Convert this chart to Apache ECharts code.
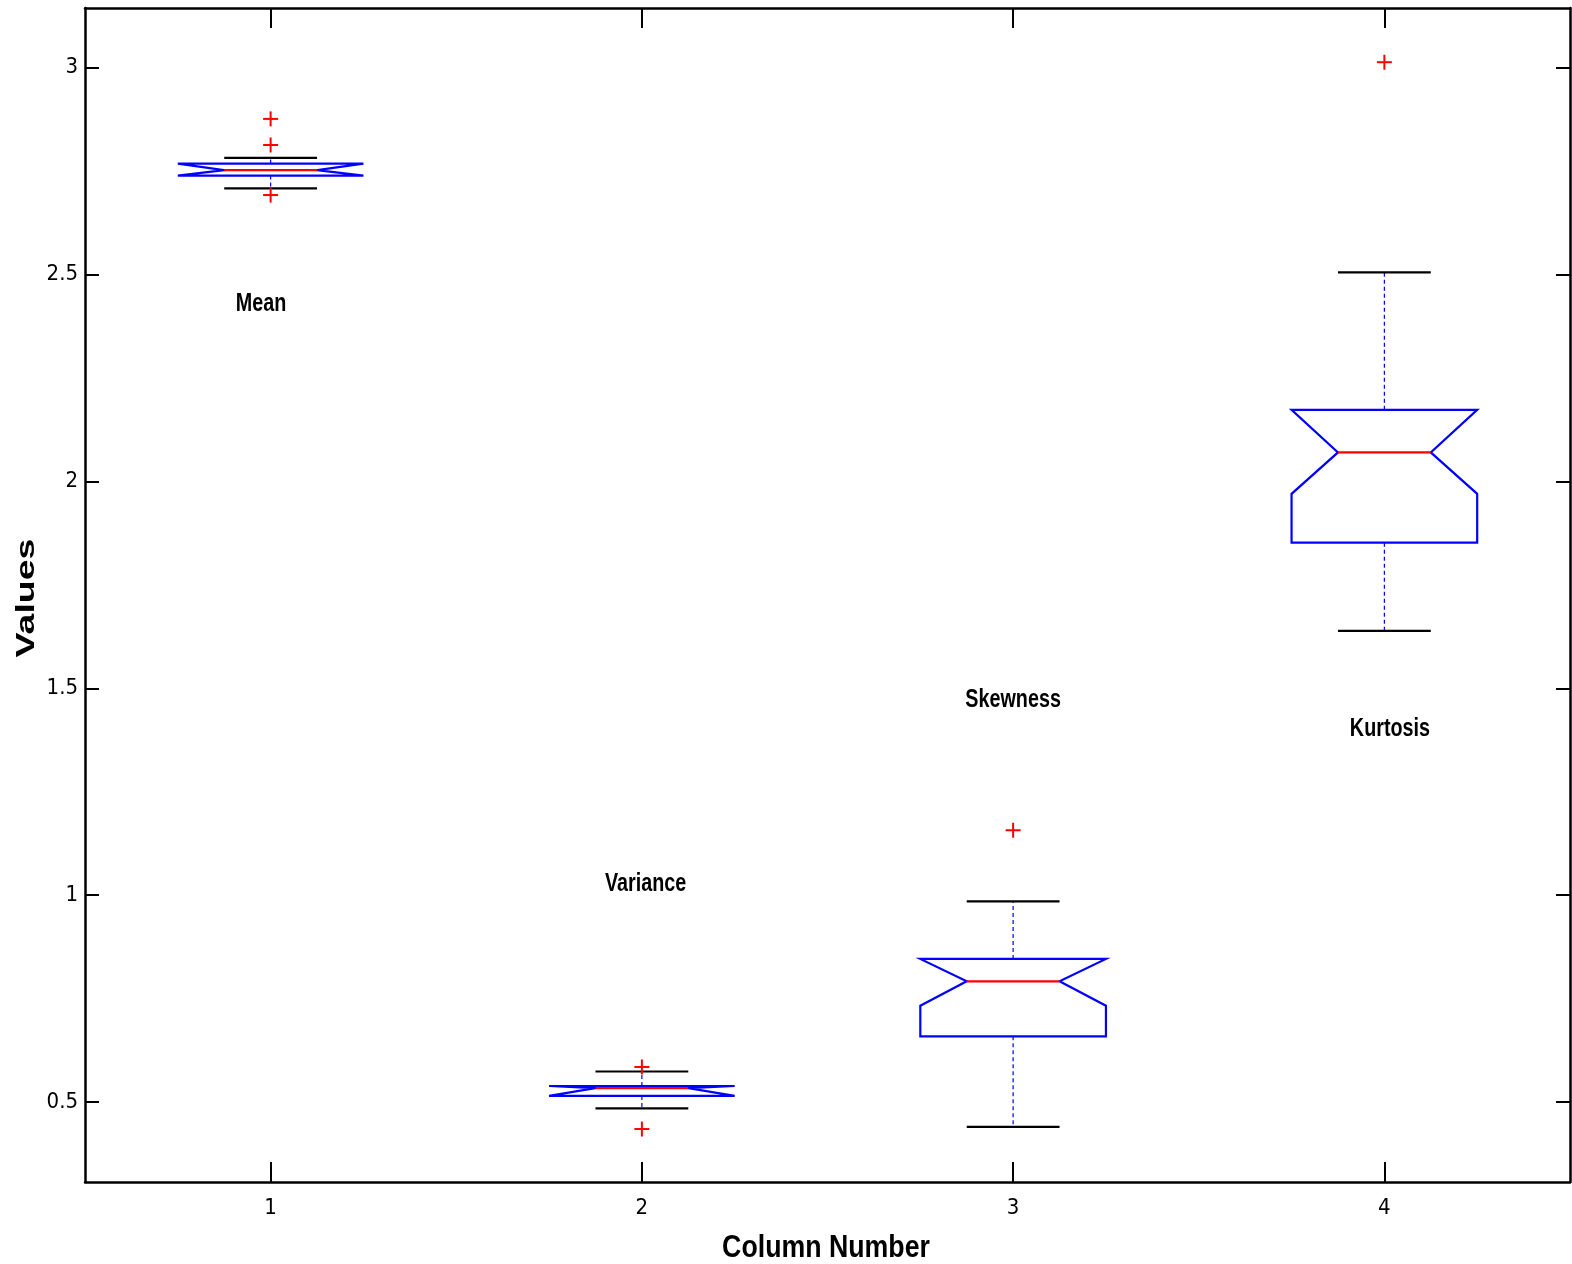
<!DOCTYPE html>
<html>
<head>
<meta charset="utf-8">
<script src="https://cdn.jsdelivr.net/npm/echarts@6/dist/echarts.min.js"></script>
<style>html,body{margin:0;padding:0;background:#fff}#c{width:1572px;height:1264px}</style>
</head>
<body>
<div id="c"></div>
<script>
// ---- data ----
const columns = [1, 2, 3, 4];
const groupNames = ['Mean', 'Variance', 'Skewness', 'Kurtosis'];
const whiskerLow = [2.708, 0.485, 0.440, 1.639];
const q1 = [2.739, 0.515, 0.659, 1.852];
const median = [2.752, 0.534, 0.792, 2.070];
const q3 = [2.768, 0.539, 0.846, 2.173];
const whiskerHigh = [2.782, 0.574, 0.985, 2.505];
const notchLow = [2.739, 0.515, 0.733, 1.970];
const notchHigh = [2.768, 0.539, 0.846, 2.173];
const outlierX = [1, 1, 1, 2, 2, 3, 4];
const outlierY = [2.876, 2.813, 2.692, 0.585, 0.435, 1.157, 3.013];
const labelX = [0.974, 2.01, 3.0, 4.015];
const labelY = [2.428, 1.028, 1.473, 1.403];
const xTicks = [1, 2, 3, 4];
const yTicks = [0.5, 1, 1.5, 2, 2.5, 3];

const boxData = columns.map((c, i) => [c, whiskerLow[i], q1[i], median[i], q3[i], whiskerHigh[i], notchLow[i], notchHigh[i]]);
const outData = outlierX.map((x, i) => [x, outlierY[i]]);
const labData = labelX.map((x, i) => [x, labelY[i], i]);

const HALF = 0.25, INNER = 0.125;
const blue = '#0000ff', red = '#ff0000';

function renderBox(params, api) {
  const x = api.value(0);
  const wl = api.value(1), a = api.value(2), m = api.value(3), b = api.value(4), wh = api.value(5), nl = api.value(6), nh = api.value(7);
  const P = (xx, yy) => api.coord([xx, yy]);
  const L = x - HALF, R = x + HALF, Li = x - INNER, Ri = x + INNER;
  const poly = [P(L, b), P(R, b), P(R, nh), P(Ri, m), P(R, nl), P(R, a), P(L, a), P(L, nl), P(Li, m), P(L, nh)];
  const seg = (x1, y1, x2, y2, style) => {
    const p1 = P(x1, y1), p2 = P(x2, y2);
    return { type: 'line', shape: { x1: p1[0], y1: p1[1], x2: p2[0], y2: p2[1] }, style };
  };
  const dash = { stroke: blue, lineWidth: 1.2, lineDash: [4, 3] };
  const cap = { stroke: '#000', lineWidth: 2.2 };
  return { type: 'group', children: [
    seg(x, b, x, wh, dash),
    seg(x, a, x, wl, dash),
    seg(Li, wh, Ri, wh, cap),
    seg(Li, wl, Ri, wl, cap),
    { type: 'polygon', shape: { points: poly }, style: { fill: 'none', stroke: blue, lineWidth: 2.2 } },
    seg(Li, m, Ri, m, { stroke: red, lineWidth: 2.2 })
  ] };
}

function renderPlus(params, api) {
  const p = api.coord([api.value(0), api.value(1)]);
  const s = 7.5;
  return { type: 'group', children: [
    { type: 'line', shape: { x1: p[0] - s, y1: p[1], x2: p[0] + s, y2: p[1] }, style: { stroke: red, lineWidth: 2 } },
    { type: 'line', shape: { x1: p[0], y1: p[1] - s, x2: p[0], y2: p[1] + s }, style: { stroke: red, lineWidth: 2 } }
  ] };
}

function renderLabel(params, api) {
  const p = api.coord([api.value(0), api.value(1)]);
  return { type: 'text', x: p[0], y: p[1], scaleX: 0.76,
    style: { text: groupNames[api.value(2)], font: "bold 26px 'Liberation Sans', Arial, sans-serif", fill: '#000', align: 'center', verticalAlign: 'middle' } };
}

const tickFont = "'DejaVu Sans Condensed', 'Liberation Sans', sans-serif";
const axisCommon = {
  type: 'value', splitLine: { show: false },
  axisLine: { show: true, onZero: false, lineStyle: { color: '#000', width: 2.5 } }
};

const chart = echarts.init(document.getElementById('c'), null, { renderer: 'canvas' });
chart.setOption({
  animation: false,
  backgroundColor: '#fff',
  grid: { left: 85, top: 8, right: 2, bottom: 82, containLabel: false },
  xAxis: [
    Object.assign({}, axisCommon, { position: 'bottom', min: 0.5, max: 4.5,
      axisTick: { show: true, inside: true, length: 20, customValues: xTicks, lineStyle: { color: '#000', width: 2 } },
      axisLabel: { show: true, customValues: xTicks, margin: 15, fontSize: 22, fontFamily: tickFont, color: '#000' } }),
    Object.assign({}, axisCommon, { position: 'top', min: 0.5, max: 4.5,
      axisTick: { show: true, inside: true, length: 20, customValues: xTicks, lineStyle: { color: '#000', width: 2 } },
      axisLabel: { show: false } })
  ],
  yAxis: [
    Object.assign({}, axisCommon, { position: 'left', min: 0.307, max: 3.144,
      axisTick: { show: true, inside: true, length: 14, customValues: yTicks, lineStyle: { color: '#000', width: 2 } },
      axisLabel: { show: true, customValues: yTicks, margin: 7, fontSize: 22, fontFamily: tickFont, color: '#000' } }),
    Object.assign({}, axisCommon, { position: 'right', min: 0.307, max: 3.144,
      axisTick: { show: true, inside: true, length: 14, customValues: yTicks, lineStyle: { color: '#000', width: 2 } },
      axisLabel: { show: false } })
  ],
  graphic: [
    { type: 'text', x: 826, y: 1248, scaleX: 0.835,
      style: { text: 'Column Number', font: "bold 32px 'Liberation Sans', Arial, sans-serif", fill: '#000', align: 'center', verticalAlign: 'middle' } },
    { type: 'text', x: 27, y: 598, rotation: Math.PI / 2, scaleX: 1.5,
      style: { text: 'Values', font: "bold 25px 'Liberation Sans', Arial, sans-serif", fill: '#000', align: 'center', verticalAlign: 'middle' } }
  ],
  series: [
    { type: 'custom', renderItem: renderBox, data: boxData, clip: false },
    { type: 'custom', renderItem: renderPlus, data: outData },
    { type: 'custom', renderItem: renderLabel, data: labData }
  ]
});
</script>
</body>
</html>
